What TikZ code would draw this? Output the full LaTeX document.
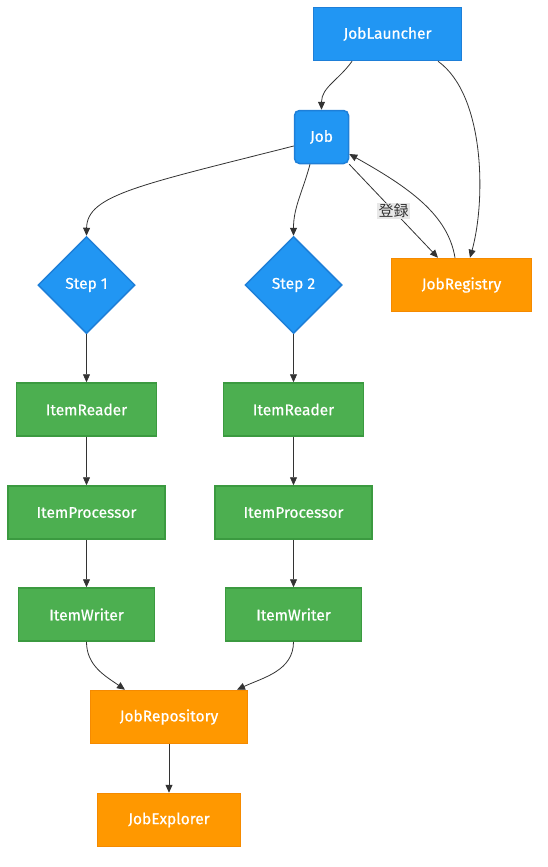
\documentclass[tikz,border=0pt]{standalone}
\usepackage{fontspec}
\setmainfont{Fira Sans}
\newfontfamily\boxfont[FakeBold=0.6]{Fira Sans}
\newfontfamily\jpfont{Noto Sans CJK JP}
\usetikzlibrary{shapes.geometric,arrows.meta}
\definecolor{jobblue}{HTML}{2196F3}
\definecolor{jobblueline}{HTML}{1E7FD8}
\definecolor{itemgreen}{HTML}{4CAF50}
\definecolor{itemgreenline}{HTML}{3B9A40}
\definecolor{repoorange}{HTML}{FF9800}
\definecolor{repoorangeline}{HTML}{F58A00}
\definecolor{edgegray}{HTML}{333333}
\definecolor{labelgray}{HTML}{E8E8E8}
\tikzset{
  base/.style={line width=1.5pt, text=white, font=\boxfont\fontsize{15.5}{18}\selectfont, inner sep=0pt, minimum height=53pt},
  bluebox/.style={base, fill=jobblue, draw=jobblueline},
  greenbox/.style={base, fill=itemgreen, draw=itemgreenline},
  orangebox/.style={base, fill=repoorange, draw=repoorangeline},
  stepnode/.style={base, shape=diamond, aspect=1, minimum width=97pt, minimum height=97pt, fill=jobblue, draw=jobblueline},
  arr/.style={-{Triangle[length=8pt,width=7pt]}, draw=edgegray, line width=0.8pt},
  tag/.style={fill=labelgray, text=edgegray, font=\jpfont\fontsize{15}{17}\selectfont, inner sep=1.5pt}
}
\begin{document}
\begin{tikzpicture}[x=1pt,y=-1pt]
  \useasboundingbox (0,0) rectangle (548,867);

  \node[bluebox, minimum width=148pt] (launcher) at (387.5,34) {JobLauncher};
  \node[bluebox, rounded corners=5pt, minimum width=54pt] (job) at (321.5,137) {Job};
  \node[orangebox, minimum width=140pt] (registry) at (461.5,285) {JobRegistry};

  \foreach \c/\x in {1/86.5, 2/293.5}{
    \node[stepnode] (step\c) at (\x,285) {Step \c};
    \node[greenbox, minimum width=140pt] (reader\c) at (\x,409.5) {ItemReader};
    \node[greenbox, minimum width=157pt] (proc\c) at (\x,512.5) {ItemProcessor};
    \node[greenbox, minimum width=136pt] (writer\c) at (\x,614.5) {ItemWriter};
    \draw[arr] (step\c) -- (reader\c);
    \draw[arr] (reader\c) -- (proc\c);
    \draw[arr] (proc\c) -- (writer\c);
  }

  \node[orangebox, minimum width=157pt] (repo) at (169,717) {JobRepository};
  \node[orangebox, minimum width=143pt] (explorer) at (169,820) {JobExplorer};

  \draw[arr] ([xshift=-35.5pt]launcher.south) to[out=-125,in=90] (job.north);
  \draw[arr] ([xshift=50.5pt]launcher.south) .. controls (485,95) and (486,200) .. ([xshift=8.5pt]registry.north);
  \draw[arr] ([yshift=-9pt]job.west) .. controls (140,185) and (87,195) .. (step1.north);
  \draw[arr] ([xshift=-11.5pt]job.south) to[out=-105,in=90] (step2.north);
  \draw[arr] (job.south east) -- node[tag] (reglabel) {登録} ([xshift=-23.5pt]registry.north);
  \draw[arr] ([xshift=-6.5pt]registry.north) .. controls (448,215) and (410,188) .. ([yshift=-17pt]job.east);
  \draw[arr] (writer1.south) to[out=-90,in=145] ([xshift=-44pt]repo.north);
  \draw[arr] (writer2.south) to[out=-90,in=25] ([xshift=68pt]repo.north);
  \draw[arr] (repo) -- (explorer);
\end{tikzpicture}
\end{document}
